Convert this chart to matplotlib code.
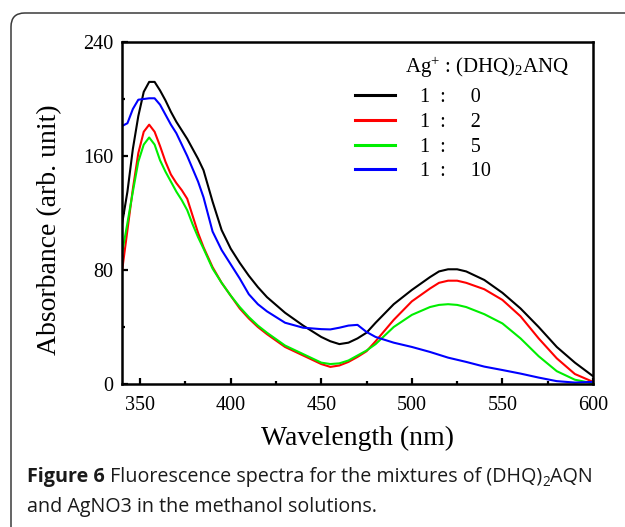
import matplotlib
matplotlib.use("Agg")
import matplotlib.pyplot as plt
from matplotlib.patches import FancyBboxPatch
from matplotlib.ticker import MultipleLocator

# ---------------- data ----------------
wavelength = [340, 343, 346, 349, 352, 355, 358, 361, 364, 367, 370, 373, 376, 379,
              382, 385, 390, 395, 400, 405, 410, 415, 420, 430, 440, 450, 455, 460,
              465, 470, 475, 480, 490, 500, 510, 515, 520, 525, 530, 540, 550, 560,
              570, 580, 590, 600]

ratio_1_0 = [112, 135, 165, 188, 205, 212, 212, 206, 199, 191, 184, 178, 172, 165,
             158, 150, 128, 108, 95, 85, 76, 68, 61, 50, 41, 33, 30, 28,
             29, 32, 36, 43, 56, 66, 75, 79, 80.5, 80.5, 79, 73, 64, 53,
             40, 26, 15, 5.5]

ratio_1_2 = [79, 108, 137, 162, 177, 182, 177, 167, 156, 147, 141, 136, 130, 118,
             106, 96, 82, 71, 62, 53, 46, 40, 35, 26, 20, 14, 12, 13,
             15.5, 19, 23, 30, 45, 58, 67, 71, 72.5, 72.5, 71, 66.5, 59, 47.5,
             32, 18, 7, 1.5]

ratio_1_5 = [91.5, 113, 135, 156, 168, 173, 168, 157, 149, 142, 135, 129, 122, 112,
             103, 95, 81, 71, 62, 54, 47, 41, 36, 27, 21, 15, 14, 14.5,
             16.5, 20, 23.5, 28, 40, 48.5, 54, 55.5, 56, 55.5, 54, 49, 42.5, 32,
             19.5, 9, 3, 0.5]

ratio_1_10 = [181, 183, 193, 199.5, 200, 200.5, 200.5, 196, 189, 182, 176, 168, 160, 151,
              142, 131, 107, 94, 84, 74, 63, 56, 51, 43, 39.5, 38.5, 38.3, 39.5,
              41, 41.5, 36.5, 33, 29, 26, 22.5, 20.5, 18.5, 17, 15.5, 12.2, 9.8, 7.3,
              4.5, 2, 1, 1.5]

series = [ratio_1_0, ratio_1_2, ratio_1_5, ratio_1_10]
series_labels = ["1  :     0", "1  :     2", "1  :     5", "1  :     10"]
series_colors = ["#000000", "#ff0000", "#00ee00", "#0000ff"]

legend_title = "Ag$^{+}$ : (DHQ)$_{2}$ANQ"
x_label = "Wavelength (nm)"
y_label = "Absorbance (arb. unit)"
x_ticks = [350, 400, 450, 500, 550, 600]
y_ticks = [0, 80, 160, 240]
caption_bold = "Figure 6"
caption_1 = " Fluorescence spectra for the mixtures of (DHQ)"
caption_sub = "2"
caption_2 = "AQN"
caption_line2 = "and AgNO3 in the methanol solutions."

# ---------------- style ----------------
plt.rcParams['font.family'] = ['Liberation Serif', 'DejaVu Serif']
plt.rcParams['mathtext.fontset'] = 'custom'
plt.rcParams['mathtext.rm'] = 'Liberation Serif'
plt.rcParams['mathtext.it'] = 'Liberation Serif:italic'
plt.rcParams['mathtext.default'] = 'rm'

W, H = 625, 527
fig = plt.figure(figsize=(W / 100, H / 100), dpi=100)

# rounded border around the figure
border = FancyBboxPatch((11 / W, -20 / H), (W + 40) / W, (514 + 20) / H,
                        boxstyle="round,pad=0,rounding_size=0.022",
                        transform=fig.transFigure, fill=False,
                        edgecolor="#3a3a3a", linewidth=1.1, clip_on=False,
                        mutation_aspect=W / H)
fig.patches.append(border)

left, right, top, bottom = 122, 593, 42, 384
ax = fig.add_axes([left / W, (H - bottom) / H, (right - left) / W, (bottom - top) / H])

for y, c, lab in zip(series, series_colors, series_labels):
    ax.plot(wavelength, y, color=c, lw=1.5, label=lab)

ax.set_xlim(340, 600)
ax.set_ylim(0, 240)
ax.set_xticks(x_ticks)
ax.set_yticks(y_ticks)
ax.xaxis.set_minor_locator(MultipleLocator(25))
ax.yaxis.set_minor_locator(MultipleLocator(40))
ax.tick_params(which='both', direction='in', width=1.6, labelsize=14.5)
ax.tick_params(which='major', length=4.5)
ax.tick_params(which='minor', length=2.5)
ax.tick_params(axis='x', pad=9)
ax.tick_params(axis='y', pad=6)
for s in ax.spines.values():
    s.set_linewidth(1.8)

ax.set_xlabel(x_label, fontsize=20)
ax.set_ylabel(y_label, fontsize=20)
ax.xaxis.set_label_coords(0.5, -54 / (bottom - top), transform=ax.transAxes)
ax.yaxis.set_label_coords(-72 / (right - left), 0.45)
ax.xaxis.label.set_va('center')
ax.yaxis.label.set_va('center')

leg = ax.legend(loc='upper left', bbox_to_anchor=((363 - 8 - left) / (right - left), 1 - (88 - top) / (bottom - top)),
                frameon=False, fontsize=14.5, handlelength=2.0, handletextpad=1.25,
                labelspacing=0.28, borderpad=0.0, borderaxespad=0.0)
for l in leg.get_lines():
    l.set_linewidth(2.2)

ax.text((405 - left) / (right - left), 1 - (67 - top) / (bottom - top), legend_title,
        transform=ax.transAxes, fontsize=15, ha='left', va='center')

# ---------------- caption ----------------
cap_font = dict(family=['Open Sans', 'DejaVu Sans'], size=14.2, color="#1a1a1a")
renderer = fig.canvas.get_renderer()
x0 = 27
y1 = H - 482
y2 = H - 512
t = fig.text(x0 / W, y1 / H, caption_bold, fontweight='bold', va='baseline', **cap_font)
x = x0 + t.get_window_extent(renderer).width
t = fig.text(x / W, y1 / H, caption_1, va='baseline', **cap_font)
x += t.get_window_extent(renderer).width
sub_font = dict(cap_font)
sub_font['size'] = cap_font['size'] * 0.7
t = fig.text(x / W, (y1 - 4) / H, caption_sub, va='baseline', **sub_font)
x += t.get_window_extent(renderer).width
fig.text(x / W, y1 / H, caption_2, va='baseline', **cap_font)
fig.text(x0 / W, y2 / H, caption_line2, va='baseline', **cap_font)

fig.savefig("out.png", dpi=100)
